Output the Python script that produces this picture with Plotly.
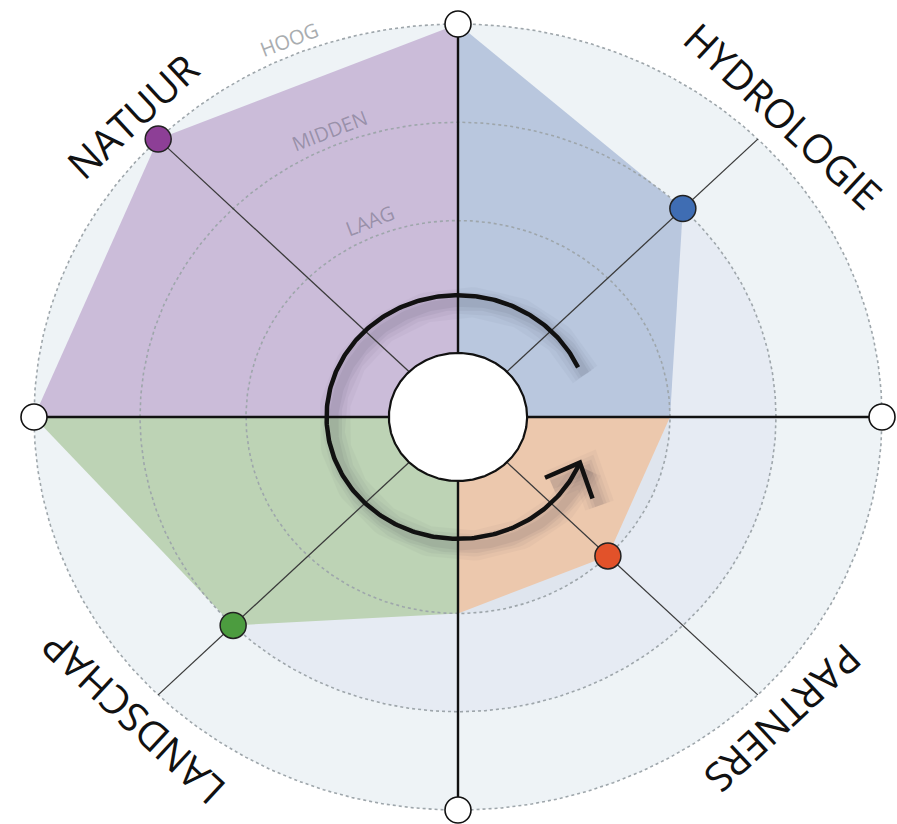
import numpy as np
import plotly.graph_objects as go

# ---- data ----
categories = ["NATUUR", "HYDROLOGIE", "PARTNERS", "LANDSCHAP"]
scores = [1.0, 0.75, 0.5, 0.75]
axis_names = ["N", "O", "Z", "W"]
axis_scores = [1.0, 0.5, 0.5, 1.0]
level_labels = ["LAAG", "MIDDEN", "HOOG"]
level_values = [0.5, 0.75, 1.0]

# ---- layout / style ----
cat_angles = [135, 45, -45, -135]
axis_angles = [90, 0, -90, 180]
dot_colors = ["#8d3f96", "#3f6db3", "#e2522a", "#4c9c3f"]
fill_colors = ["#cbbcd9", "#b9c7de", "#ecc8ad", "#bdd3b5"]
band_colors = ["#dfe5ee", "#e6ebf3", "#eef3f6"]

W, H = 897, 824
CX, CY = 458, 417
PX, PY = 424, 393  # pixels per data unit

def pol(r, deg):
    t = np.radians(np.asarray(deg, dtype=float))
    return r * np.cos(t), r * np.sin(t)

def ring(r, n=361):
    t = np.linspace(0, 360, n)
    return pol(r, t)

fig = go.Figure()

def add_line(x, y, color, width, dash=None, fill=None, fillcolor=None, opacity=1.0):
    fig.add_trace(go.Scatter(x=list(x), y=list(y), mode="lines",
                             line=dict(color=color, width=width, dash=dash),
                             fill=fill, fillcolor=fillcolor, opacity=opacity,
                             hoverinfo="skip", showlegend=False))

# background bands (outer to inner)
for lv, bc in sorted(zip(level_values, band_colors), reverse=True):
    x, y = ring(lv)
    add_line(x, y, "rgba(0,0,0,0)", 0, fill="toself", fillcolor=bc)

# quadrant polygons
def axis_point(angle):
    a = ((angle + 180) % 360) - 180
    if a == -180:
        a = 180
    i = axis_angles.index(a)
    return pol(axis_scores[i], axis_angles[i])

for cat, sc, ang, fc in zip(categories, scores, cat_angles, fill_colors):
    p1 = axis_point(ang - 45)
    p2 = axis_point(ang + 45)
    pc = pol(sc, ang)
    xs = [0, p1[0], pc[0], p2[0], 0]
    ys = [0, p1[1], pc[1], p2[1], 0]
    add_line(xs, ys, "rgba(0,0,0,0)", 0, fill="toself", fillcolor=fc)

# dotted level circles
for lv in level_values:
    x, y = ring(lv, 721)
    add_line(x, y, "#9ea6ab", 1.6, dash="dot")

# arrow geometry
R_ARC = 0.31
a_start, a_end = 24, -22
arc_t = np.linspace(a_start, 360 + a_end, 300)
ax_, ay_ = pol(R_ARC, arc_t)
tip_x, tip_y = pol(R_ARC, a_end)
te = np.radians(a_end)
tx, ty = -PX * np.sin(te), PY * np.cos(te)
nrm = np.hypot(tx, ty)
bx, by = -tx / nrm, -ty / nrm
arm_len, half = 38, np.radians(43)
heads = []
for s in (1, -1):
    c, sn = np.cos(s * half), np.sin(s * half)
    dx = (bx * c - by * sn) * arm_len / PX
    dy = (bx * sn + by * c) * arm_len / PY
    heads.append((float(tip_x + dx), float(tip_y + dy)))
head_x = [heads[0][0], float(tip_x), heads[1][0]]
head_y = [heads[0][1], float(tip_y), heads[1][1]]

# arc shadow
ox, oy = 7 / PX, -7 / PY
for w, op in [(30, 0.03), (22, 0.04), (15, 0.05), (9, 0.06)]:
    add_line(ax_ + ox, ay_ + oy, "rgb(40,40,60)", w, opacity=op)
    add_line(np.array(head_x) + ox, np.array(head_y) + oy, "rgb(40,40,60)", w, opacity=op)

# radial lines
for ang in cat_angles:
    ex, ey = pol(1.0, ang)
    add_line([0, ex], [0, ey], "#3a3a3a", 1.3)
for ang in axis_angles:
    ex, ey = pol(1.0, ang)
    add_line([0, ex], [0, ey], "#111111", 2.4)

# centre disk
x, y = ring(0.163)
add_line(x, y, "#111111", 2.2, fill="toself", fillcolor="white")

# arrow
add_line(ax_, ay_, "#111111", 4.5)
add_line(head_x, head_y, "#111111", 4.5)

# axis end dots
axx, axy = pol(1.0, axis_angles)
fig.add_trace(go.Scatter(x=list(axx), y=list(axy), mode="markers", text=axis_names,
                         marker=dict(size=26, color="white", line=dict(color="#111111", width=1.6)),
                         hoverinfo="skip", showlegend=False))

# category dots
cx_, cy_ = [], []
for sc, ang in zip(scores, cat_angles):
    px_, py_ = pol(sc, ang)
    cx_.append(float(px_)); cy_.append(float(py_))
fig.add_trace(go.Scatter(x=cx_, y=cy_, mode="markers", text=categories,
                         marker=dict(size=26, color=dot_colors, line=dict(color="#222222", width=1.5)),
                         hoverinfo="text", showlegend=False))

annotations = []
# category labels
for cat, ang in zip(categories, cat_angles):
    lx, ly = pol(1.085, ang)
    t = np.radians(ang)
    dx, dy = np.sin(t) * PX, -np.cos(t) * PY
    rot = -np.degrees(np.arctan2(dy, dx))
    annotations.append(dict(x=float(lx), y=float(ly), text=cat, showarrow=False,
                            textangle=float(rot), xanchor="center", yanchor="middle",
                            font=dict(family="Open Sans", size=40, color="#111111")))

# level labels
lab_ang = 112.5
lab_colors = ["rgba(90,90,110,0.45)", "rgba(90,90,110,0.45)", "#a9adb0"]
for lab, lv, col in zip(level_labels, level_values, lab_colors):
    lx, ly = pol(lv + 0.04, lab_ang)
    t = np.radians(lab_ang)
    dx, dy = np.sin(t) * PX, -np.cos(t) * PY
    rot = -np.degrees(np.arctan2(dy, dx))
    annotations.append(dict(x=float(lx), y=float(ly), text=lab, showarrow=False,
                            textangle=float(rot), xanchor="center", yanchor="middle",
                            font=dict(family="Open Sans", size=20, color=col)))

fig.update_layout(
    width=W, height=H, margin=dict(l=0, r=0, t=0, b=0),
    paper_bgcolor="white", plot_bgcolor="white",
    xaxis=dict(range=[-CX / PX, (W - CX) / PX], visible=False, fixedrange=True),
    yaxis=dict(range=[-(H - CY) / PY, CY / PY], visible=False, fixedrange=True),
    annotations=annotations, showlegend=False,
)

fig.write_html("out.html", config={"displayModeBar": False},
               post_script="document.body.style.margin='0';document.body.style.overflow='hidden';")
